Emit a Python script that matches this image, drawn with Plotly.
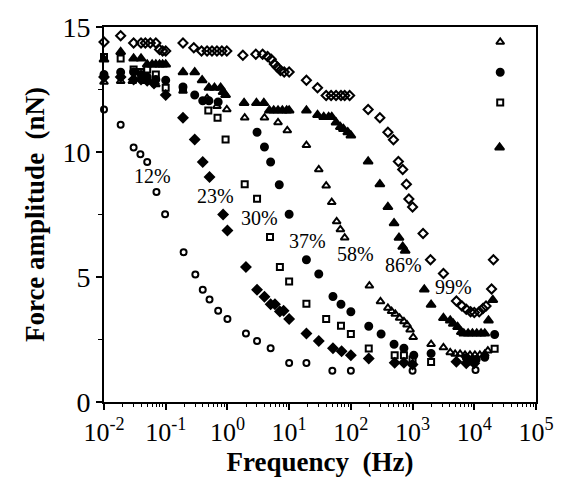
import plotly.graph_objects as go

# log10(frequency in Hz) and force amplitude (nN)
f12_log = [-2.0, -1.73, -1.52, -1.41, -1.30, -1.15, -1.01, -0.71, -0.52, -0.40, -0.29, -0.15, 0.0, 0.30, 0.48, 0.70, 1.0, 1.28, 1.70, 2.0, 3.0, 4.02]
y12 = [11.7, 11.09, 10.18, 9.91, 9.60, 8.40, 7.51, 5.99, 5.10, 4.49, 4.10, 3.65, 3.32, 2.74, 2.44, 2.15, 1.56, 1.56, 1.25, 1.25, 1.25, 1.28]

f23_log = [-2.0, -1.73, -1.52, -1.40, -1.30, -1.19, -1.0, -0.72, -0.53, -0.40, -0.29, -0.07, 0.0, 0.30, 0.48, 0.60, 0.70, 0.77, 0.85, 0.91, 1.0, 1.28, 1.48, 1.71, 1.85, 2.0, 2.29, 2.71, 2.86, 3.0, 3.71, 3.87, 4.0]
y23 = [13.0, 13.0, 12.9, 12.9, 12.85, 12.74, 12.28, 11.37, 10.5, 9.6, 9.0, 7.5, 6.86, 5.40, 4.49, 4.21, 3.91, 3.91, 3.62, 3.65, 3.32, 2.74, 2.44, 2.15, 2.03, 1.87, 1.74, 1.57, 1.57, 1.50, 1.61, 1.55, 1.55]

f30_log = [-2.0, -1.73, -1.52, -1.40, -1.30, -1.16, -1.0, -0.72, -0.31, -0.16, -0.03, 0.28, 0.48, 0.69, 0.85, 1.0, 1.28, 1.60, 1.84, 2.0, 2.29, 2.71, 2.86, 3.0, 3.30, 4.33, 4.42]
y30 = [13.8, 13.74, 13.3, 13.2, 13.3, 13.1, 12.57, 12.54, 11.66, 11.37, 10.5, 8.71, 8.13, 6.6, 5.40, 4.82, 3.93, 3.32, 3.05, 2.72, 2.14, 1.87, 1.87, 1.70, 1.60, 2.13, 11.98]

f37_log = [-2.0, -1.73, -1.52, -1.40, -1.30, -1.16, -1.0, -0.72, -0.53, -0.40, -0.30, -0.15, 0.48, 0.60, 0.70, 0.84, 1.0, 1.28, 1.48, 1.71, 1.84, 2.0, 2.29, 2.49, 2.70, 2.86, 3.02, 3.30, 3.87, 3.93, 4.03, 4.17, 4.33, 4.42]
y37 = [13.1, 13.19, 13.2, 13.1, 13.0, 12.9, 12.87, 12.6, 12.28, 12.05, 12.05, 12.0, 10.79, 10.2, 9.6, 8.69, 7.51, 5.69, 5.12, 4.22, 3.91, 3.61, 3.03, 2.72, 2.31, 2.15, 1.87, 1.94, 1.77, 1.64, 1.70, 1.79, 2.70, 13.19]

f58_log = [-2.0, -1.73, -1.54, -1.32, -1.16, -0.72, -0.33, -0.17, -0.01, 0.28, 0.60, 0.82, 0.97, 1.28, 1.48, 1.60, 1.69, 1.77, 1.83, 1.90, 2.30, 2.48, 2.60, 2.66, 2.72, 2.79, 2.86, 2.91, 2.96, 3.01, 3.30, 3.50, 3.61, 3.69, 3.77, 3.85, 3.93, 4.01, 4.09, 4.17, 4.22, 4.42]
y58 = [12.8, 12.83, 12.83, 12.83, 12.7, 12.44, 12.15, 11.83, 11.70, 11.37, 11.37, 11.18, 10.86, 10.27, 9.30, 8.65, 7.99, 7.22, 6.90, 6.57, 4.65, 4.02, 3.76, 3.63, 3.52, 3.36, 3.22, 3.09, 2.89, 2.59, 2.31, 2.18, 1.98, 1.92, 1.92, 1.88, 1.88, 1.88, 1.88, 1.92, 2.05, 14.4]

f86_log = [-2.0, -1.73, -1.52, -1.40, -1.30, -1.22, -1.16, -1.10, -1.05, -1.0, -0.72, -0.53, -0.41, -0.30, -0.21, -0.11, -0.07, -0.03, 0.27, 0.47, 0.59, 0.68, 0.75, 0.82, 0.89, 0.96, 1.0, 1.28, 1.46, 1.56, 1.64, 1.69, 1.76, 1.83, 1.88, 1.95, 2.0, 2.28, 2.47, 2.60, 2.70, 2.78, 2.84, 2.88, 3.19, 3.30, 3.50, 3.61, 3.66, 3.73, 3.79, 3.83, 3.90, 3.97, 4.04, 4.11, 4.17, 4.23, 4.30, 4.41]
y86 = [13.7, 14.0, 13.74, 13.74, 13.5, 13.5, 13.5, 13.5, 13.5, 13.5, 13.19, 13.19, 12.87, 12.57, 12.57, 12.57, 12.4, 12.28, 11.96, 11.96, 11.96, 11.66, 11.66, 11.66, 11.66, 11.66, 11.66, 11.66, 11.48, 11.40, 11.40, 11.40, 11.18, 11.0, 10.92, 10.79, 10.66, 9.62, 8.71, 7.80, 7.15, 6.57, 6.21, 6.05, 4.50, 3.89, 3.36, 3.26, 3.13, 3.0, 2.80, 2.74, 2.74, 2.74, 2.74, 2.74, 2.74, 3.26, 4.08, 10.18]

f99_log = [-2.0, -1.73, -1.52, -1.40, -1.33, -1.25, -1.16, -1.10, -1.05, -1.0, -0.72, -0.545, -0.42, -0.33, -0.25, -0.17, -0.09, -0.01, 0.25, 0.46, 0.57, 0.65, 0.71, 0.76, 0.81, 0.86, 0.92, 1.0, 1.28, 1.46, 1.60, 1.68, 1.76, 1.84, 1.90, 1.98, 2.28, 2.47, 2.60, 2.69, 2.77, 2.84, 2.90, 2.94, 3.0, 3.17, 3.29, 3.50, 3.71, 3.80, 3.87, 3.94, 4.0, 4.08, 4.14, 4.19, 4.28, 4.31]
y99 = [14.4, 14.65, 14.36, 14.36, 14.36, 14.36, 14.36, 14.1, 14.04, 14.04, 14.36, 14.17, 14.04, 14.04, 14.04, 14.04, 14.04, 14.04, 13.87, 13.91, 13.91, 13.82, 13.71, 13.52, 13.39, 13.26, 13.2, 13.2, 12.87, 12.57, 12.26, 12.26, 12.26, 12.26, 12.26, 12.26, 11.70, 11.37, 10.79, 10.49, 9.62, 9.30, 8.71, 8.12, 7.80, 6.74, 5.69, 5.14, 4.04, 3.84, 3.71, 3.61, 3.58, 3.61, 3.74, 3.84, 4.52, 5.69]

series_labels = ["12%", "23%", "30%", "37%", "58%", "86%", "99%"]
label_pos_log = [-1.22, -0.20, 0.52, 1.29, 2.07, 2.86, 3.67]
label_pos_y = [9.04, 8.23, 7.35, 6.44, 5.92, 5.47, 4.60]

x_tick_exps = [-2, -1, 0, 1, 2, 3, 4, 5]
y_ticks = [0, 5, 10, 15]

series = [
    (f12_log, y12, "circle-open", 6),
    (f23_log, y23, "diamond", 7),
    (f30_log, y30, "square-open", 6),
    (f37_log, y37, "circle", 7),
    (f58_log, y58, "triangle-up-open", 7),
    (f86_log, y86, "triangle-up", 8),
    (f99_log, y99, "diamond-open", 7),
]

fig = go.Figure()
for (fl, yv, sym, sz), name in zip(series, series_labels):
    fig.add_trace(go.Scatter(
        x=[10 ** v for v in fl], y=yv, mode="markers", name=name,
        cliponaxis=False,
        marker=dict(symbol=sym, size=sz, color="black",
                    line=dict(color="black", width=2)),
    ))

for lab, lx, ly in zip(series_labels, label_pos_log, label_pos_y):
    fig.add_annotation(x=lx, y=ly, text=lab, showarrow=False,
                       font=dict(family="Liberation Serif", size=20, color="black"))

serif = "Liberation Serif"
fig.update_layout(
    width=566, height=483,
    margin=dict(l=104, r=24, t=17, b=81),
    paper_bgcolor="white", plot_bgcolor="white",
    showlegend=False,
    font=dict(family=serif, color="black"),
)
fig.update_xaxes(
    type="log", range=[-2, 5],
    tickvals=[10 ** e for e in x_tick_exps],
    ticktext=["10<sup>%d</sup>" % e for e in x_tick_exps],
    tickfont=dict(family=serif, size=26),
    ticks="outside", ticklen=6, tickwidth=2, tickcolor="black",
    minor=dict(ticks="outside", ticklen=3, tickwidth=1, tickcolor="black",
               dtick="D1", showgrid=False),
    showline=True, linecolor="black", linewidth=2, mirror=True,
    showgrid=False, zeroline=False,
    title=dict(text="<b>Frequency  (Hz)</b>", font=dict(family=serif, size=27), standoff=4),
)
fig.update_yaxes(
    range=[0, 15], tickvals=y_ticks,
    tickfont=dict(family=serif, size=28),
    ticks="outside", ticklen=6, tickwidth=2, tickcolor="black",
    minor=dict(ticks="outside", ticklen=4, tickwidth=1, tickcolor="black",
               dtick=2.5, showgrid=False),
    showline=True, linecolor="black", linewidth=2, mirror=True,
    showgrid=False, zeroline=False,
    title=dict(text="<b>Force amplitude  (nN)</b>", font=dict(family=serif, size=27), standoff=10),
)

fig.write_html("out.html")
